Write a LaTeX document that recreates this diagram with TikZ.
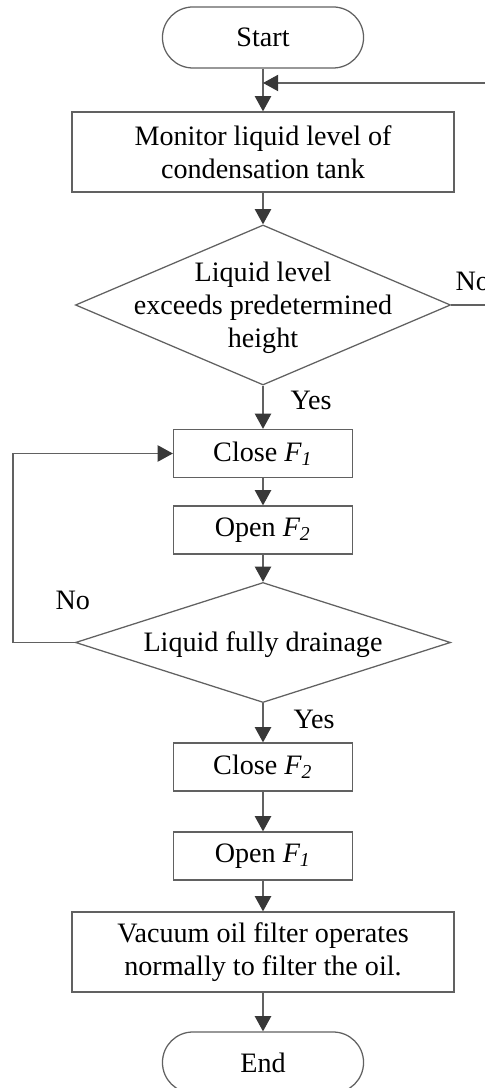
\documentclass[tikz,border=0pt]{standalone}
\usepackage{fontspec}
\setmainfont{Liberation Serif}
\usetikzlibrary{arrows.meta,shapes.geometric}

\tikzset{
  flowline/.style={draw=black!62,line width=0.45pt},
  flowarrow/.style={flowline,-{Triangle[length=5.4pt,width=5.8pt,color=black!78]}},
  terminal/.style={draw=black!62,line width=0.45pt,rounded corners=0.38cm,
    minimum width=2.5125cm,minimum height=0.7625cm,inner sep=0pt},
  widebox/.style={draw=black!62,line width=0.45pt,align=center,
    minimum width=4.775cm,minimum height=1cm,inner sep=0pt},
  smallbox/.style={draw=black!62,line width=0.45pt,
    minimum width=2.2375cm,minimum height=0.6cm,inner sep=0pt},
  decision/.style={draw=black!62,line width=0.45pt,shape=diamond,
    inner sep=0pt,minimum width=4.6875cm},
  answer/.style={anchor=base west,inner sep=0pt}
}

\begin{document}
\begin{tikzpicture}[x=0.0125cm,y=-0.0125cm,font=\fontsize{10}{11.8}\selectfont]
\useasboundingbox (0,0) rectangle (485,1088);

% boxes, top to bottom:
\path (263,37.5) node[terminal] (start) {Start};
\path (263,152) node[widebox] (monitor) {Monitor liquid level of\\condensation tank};
\path (263,305) node[decision,minimum height=2cm] (level) {};
\path (263,308) node[align=center,inner sep=0pt] (leveltext) {Liquid level\\exceeds predetermined\\height};
\path (263,453.5) node[smallbox] (close1) {Close \textit{F\textsubscript{1}}};
\path (263,530) node[smallbox] (open2) {Open \textit{F\textsubscript{2}}};
\path (263,642.5) node[decision,minimum height=1.5cm] (drain) {};
\path (263,645) node[inner sep=0pt] (draintext) {Liquid fully drainage};
\path (263,767) node[smallbox] (close2) {Close \textit{F\textsubscript{2}}};
\path (263,856) node[smallbox] (open1) {Open \textit{F\textsubscript{1}}};
\path (263,952) node[widebox] (filter) {Vacuum oil filter operates\\normally to filter the oil.};
\path (263,1062.5) node[terminal] (end) {End};

% turning points of the loops:
\coordinate (rightturn) at (500,83);
\coordinate (leftturn) at (13,453.5);

% connectors:
\draw[flowarrow] (start) -- (monitor);
\draw[flowarrow] (monitor) -- (level);
\draw[flowarrow] (level) -- (close1);
\draw[flowarrow] (close1) -- (open2);
\draw[flowarrow] (open2) -- (drain);
\draw[flowarrow] (drain) -- (close2);
\draw[flowarrow] (close2) -- (open1);
\draw[flowarrow] (open1) -- (filter);
\draw[flowarrow] (filter) -- (end);
\draw[flowarrow] (level.east) -| (rightturn) -- (rightturn -| start.south);
\draw[flowarrow] (drain.west) -- (drain.west -| leftturn) |- (close1.west);

% answers:
\path (455,291) node[answer] (levelno) {No};
\path (290,410) node[answer] (levelyes) {Yes};
\path (55,609) node[answer] (drainno) {No};
\path (293,728) node[answer] (drainyes) {Yes};

\end{tikzpicture}
\end{document}
